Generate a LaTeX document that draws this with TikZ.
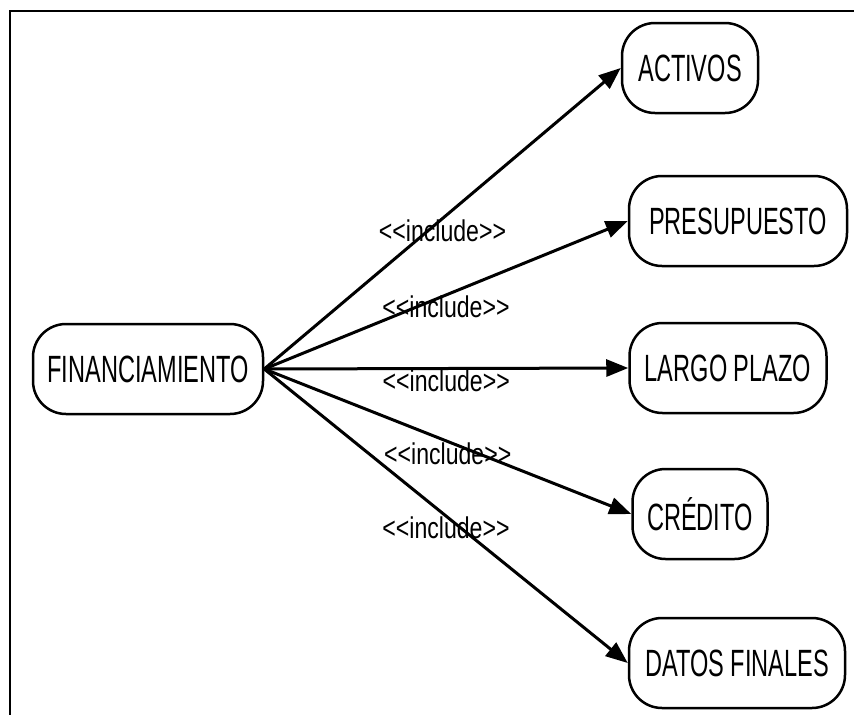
\documentclass[tikz,border=0pt]{standalone}
\usepackage{fontspec}
\usetikzlibrary{arrows.meta}

\newfontfamily\ucfont[FakeStretch=0.62]{Liberation Sans}
\newfontfamily\inclfont[FakeStretch=0.77]{Liberation Sans}

\begin{document}
\begin{tikzpicture}[x=1pt, y=-1pt, >={Triangle[length=22pt,width=17pt]},
	usecase/.style={draw, line width=2.5pt, rounded corners=33pt,
		minimum height=90pt, inner sep=0pt,
		font=\ucfont\fontsize{38}{40}\selectfont},
	incl/.style={line width=3pt, ->},
	stereo/.style={midway, yshift=-12pt, inner sep=0pt,
		font=\inclfont\fontsize{30}{32}\selectfont}]

	\useasboundingbox (0,0) rectangle (854,715);

	% frame
	\draw[line width=2pt] (854,11) -- (10,11) -- (10,715);

	% use cases
	\node[usecase, minimum width=230pt] (fin) at (148,369) {FINANCIAMIENTO};
	\node[usecase, minimum width=136pt] (activos) at (690,68) {ACTIVOS};
	\node[usecase, minimum width=218pt] (presupuesto) at (738,221) {PRESUPUESTO};
	\node[usecase, minimum width=197pt] (largo) at (728,368) {LARGO PLAZO};
	\node[usecase, minimum width=135pt] (credito) at (700,514) {CRÉDITO};
	\node[usecase, minimum width=216pt] (datos) at (737,663) {DATOS FINALES};

	% include relations
	\draw[incl] (fin.east) -- (activos.west)
	node[stereo] (la) {<<include>>};
	\draw[incl] (fin.east) -- (presupuesto.west)
	node[stereo] (lb) {<<include>>};
	\draw[incl] (fin.east) -- (largo.west)
	node[stereo] (lc) {<<include>>};
	\draw[incl] (fin.east) -- (credito.west)
	node[stereo] (ld) {<<include>>};
	\draw[incl] (fin.east) -- (datos.west)
	node[stereo] (le) {<<include>>};

\end{tikzpicture}
\end{document}
